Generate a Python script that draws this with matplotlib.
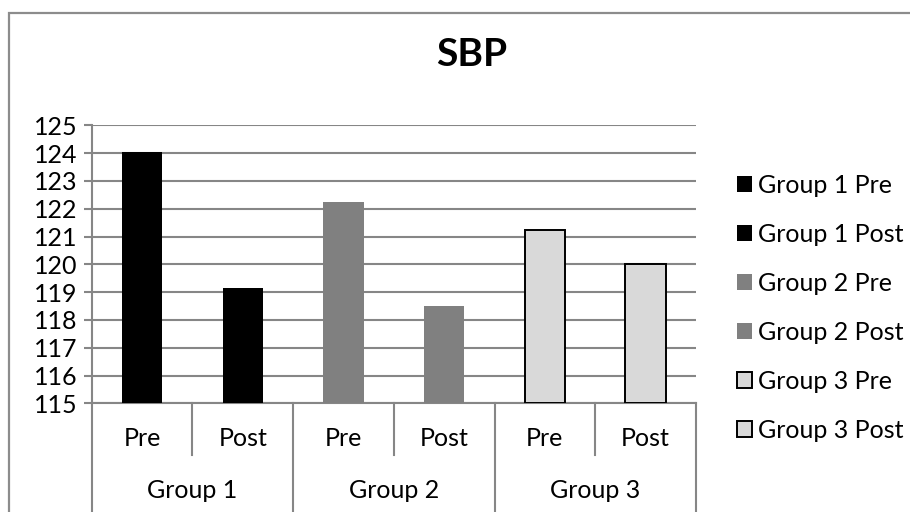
import matplotlib
matplotlib.use("Agg")
import matplotlib.pyplot as plt
from matplotlib.patches import Rectangle
from matplotlib.lines import Line2D
import matplotlib.transforms as mtransforms

# Data
groups = ["Group 1", "Group 2", "Group 3"]
phases = ["Pre", "Post"]
sbp_values = [124.05, 119.15, 122.25, 118.5, 121.25, 120.0]
series_labels = ["Group 1 Pre", "Group 1 Post", "Group 2 Pre",
                 "Group 2 Post", "Group 3 Pre", "Group 3 Post"]
y_ticks = list(range(115, 126))

# Styles
fill_colors = ["#000000", "#000000", "#808080", "#808080", "#D9D9D9", "#D9D9D9"]
edge_colors = ["#000000", "#000000", "#808080", "#808080", "#000000", "#000000"]
grid_color = "#868686"

W, H = 910, 512
fig = plt.figure(figsize=(W / 100, H / 100), dpi=100)
plt.rcParams["font.family"] = ["Lato", "DejaVu Sans"]

def px(v):
    return v * 72 / 100  # pixels -> points

# Plot area in pixels
left, right, top, bottom = 91.7, 696.0, 125.3, 403.3
ax = fig.add_axes([left / W, (H - bottom) / H, (right - left) / W, (bottom - top) / H])

n = len(sbp_values)
xs = list(range(n))
for i in xs:
    ax.bar(xs[i], sbp_values[i] - y_ticks[0], bottom=y_ticks[0], width=0.4,
           color=fill_colors[i], edgecolor=edge_colors[i],
           linewidth=1.4 if i >= 4 else 0, label=series_labels[i], zorder=3)

ax.set_xlim(-0.5, n - 0.5)
ax.set_ylim(y_ticks[0], y_ticks[-1])
ax.set_yticks(y_ticks)
ax.set_yticklabels([str(t) for t in y_ticks], fontsize=px(25))
ax.yaxis.grid(True, color=grid_color, linewidth=1.5, zorder=0)
ax.set_xticks([])
for s in ["top", "right"]:
    ax.spines[s].set_visible(False)
for s in ["left", "bottom"]:
    ax.spines[s].set_color(grid_color)
    ax.spines[s].set_linewidth(1.5)
ax.tick_params(axis="y", length=px(8), width=1.5, color=grid_color, pad=px(6))

# Multi-level category axis
blend = mtransforms.blended_transform_factory(ax.transData, fig.transFigure)
def fy(ypx):
    return (H - ypx) / H

for b in [0.5, 2.5, 4.5]:
    fig.add_artist(Line2D([b, b], [fy(bottom), fy(455)], transform=blend,
                          color=grid_color, linewidth=1.5))
for b in [-0.5, 1.5, 3.5, 5.5]:
    fig.add_artist(Line2D([b, b], [fy(bottom), fy(512)], transform=blend,
                          color=grid_color, linewidth=1.5))

for i in xs:
    fig.text(xs[i], fy(438), phases[i % 2], transform=blend,
             ha="center", va="center", fontsize=px(25))
for g, name in enumerate(groups):
    fig.text(2 * g + 0.5, fy(490), name, transform=blend,
             ha="center", va="center", fontsize=px(25))

# Title
fig.text(472 / W, fy(54), "SBP", ha="center", va="center",
         fontsize=px(39), fontweight="bold")

# Chart border
fig.add_artist(Rectangle((9 / W, -0.1), 1.2, fy(13) + 0.1, transform=fig.transFigure,
                         fill=False, edgecolor="#8c8c8c", linewidth=1.6))

# Legend
leg = fig.legend(loc="upper left", bbox_to_anchor=(737 / W, fy(174)),
                 frameon=False, fontsize=px(25), borderpad=0,
                 handlelength=0.6, handleheight=0.6, handletextpad=0.25,
                 labelspacing=1.04, borderaxespad=0)

fig.savefig("out.png", dpi=100)
